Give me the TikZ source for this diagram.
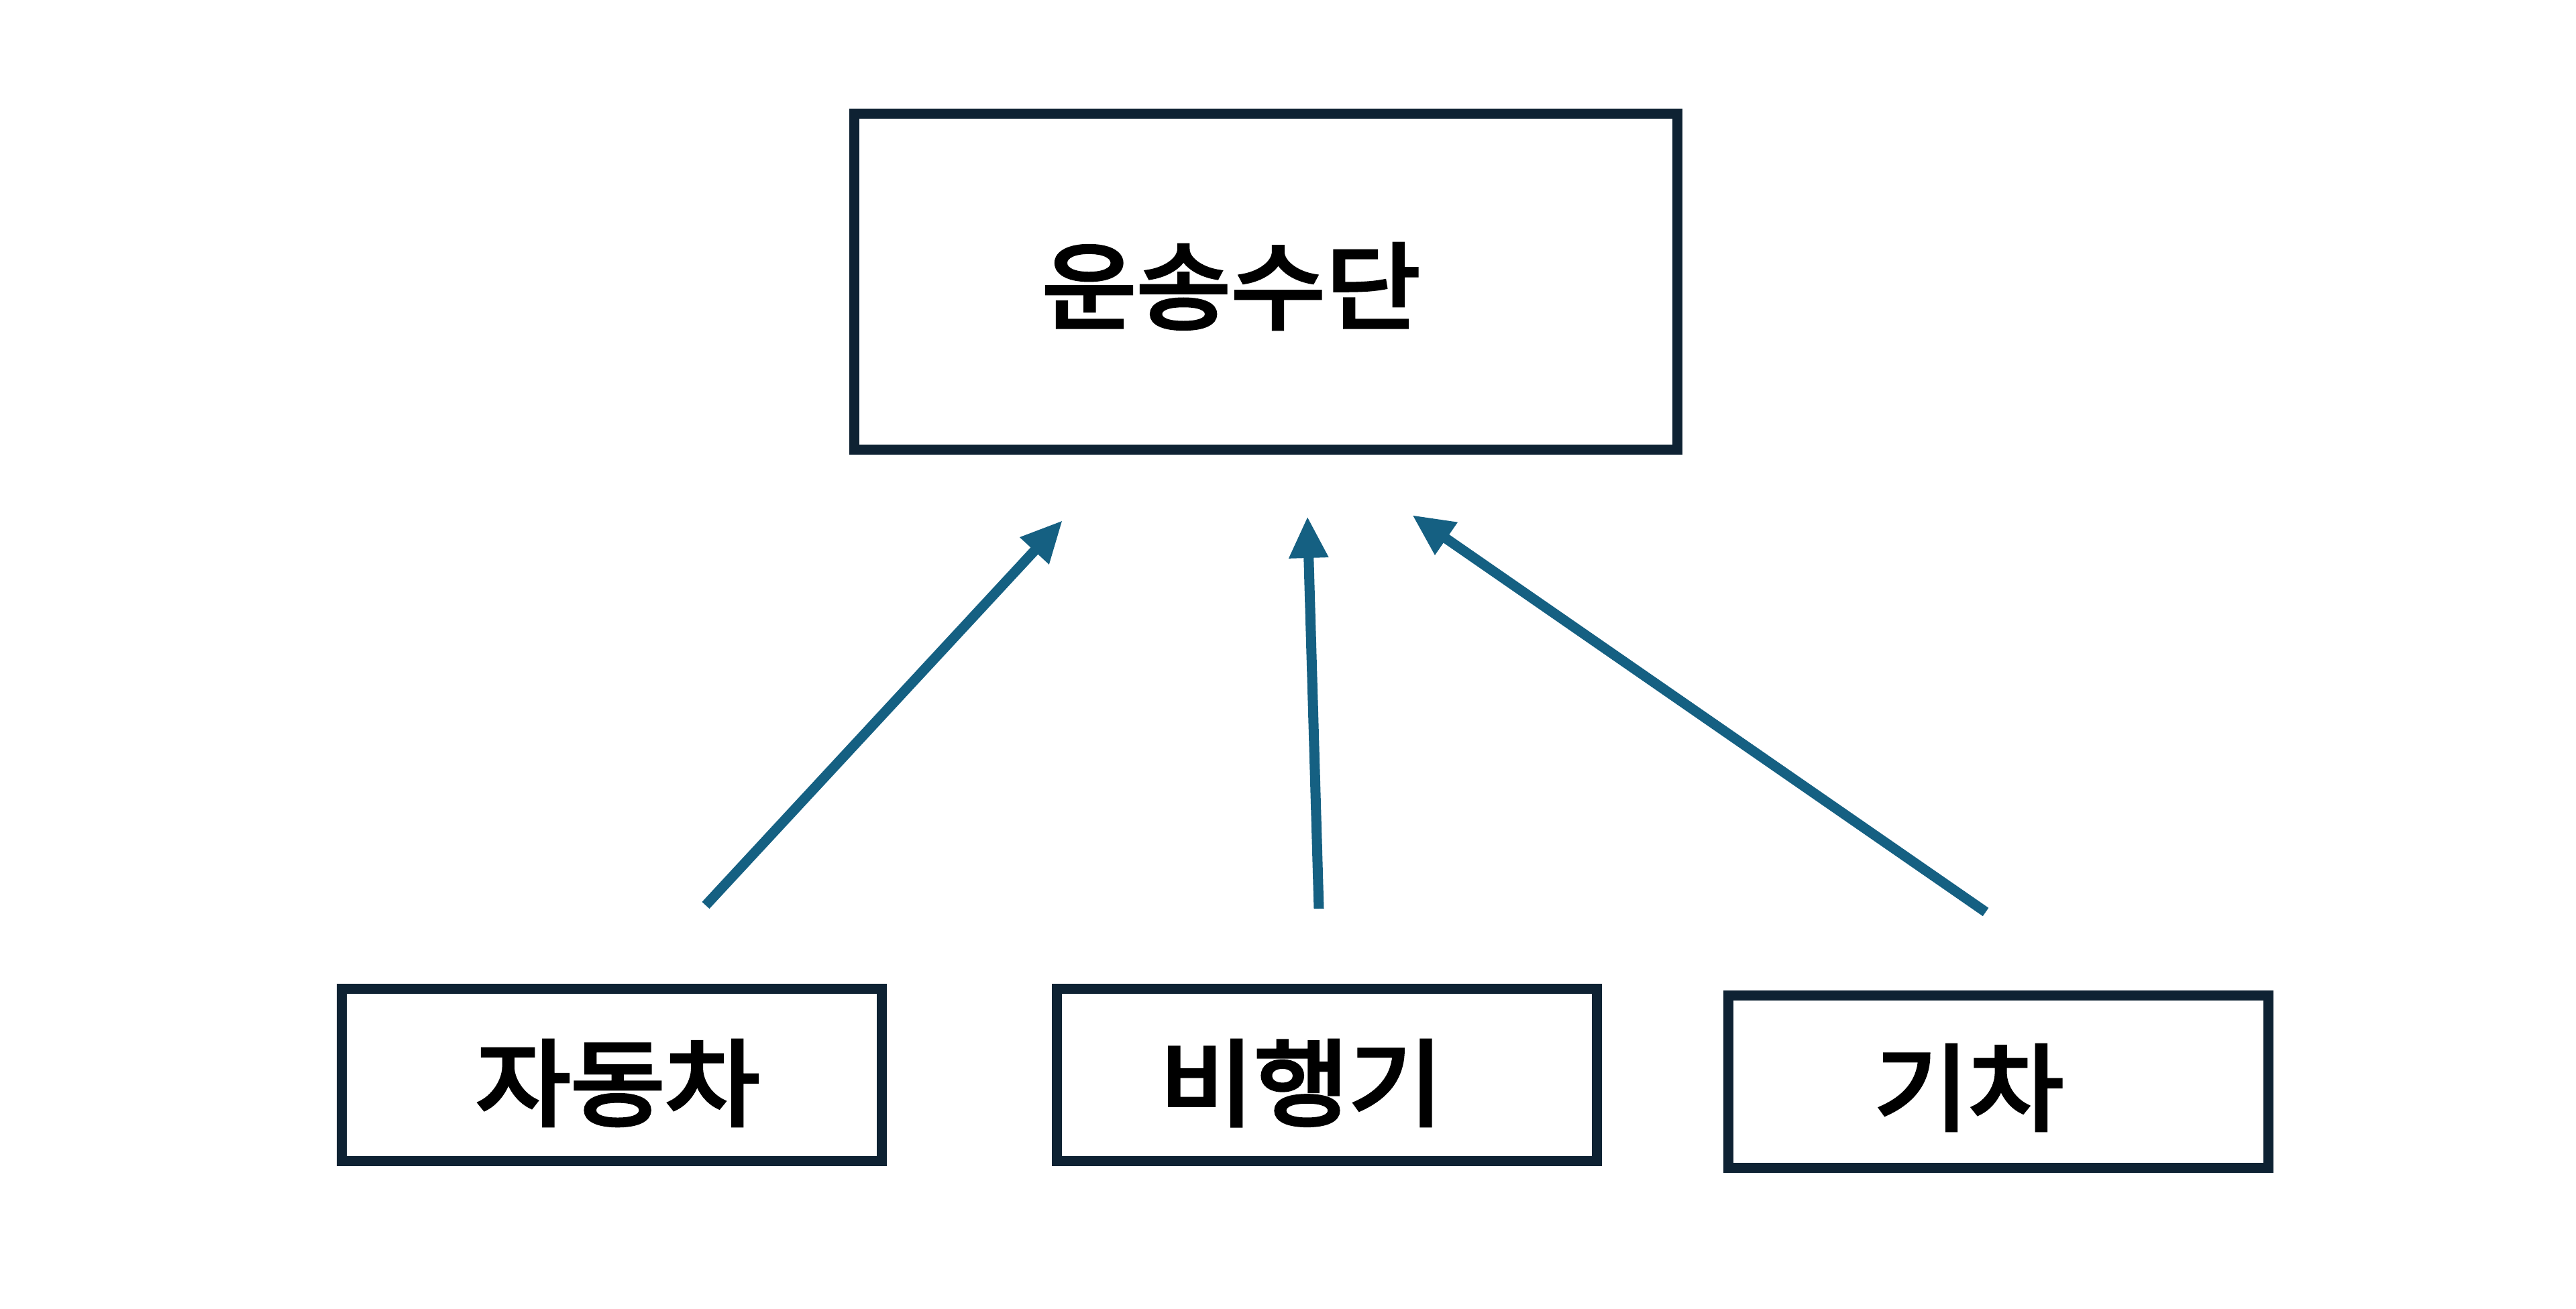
\documentclass[tikz,border=0pt]{standalone}
\usepackage{fontspec}
\newfontfamily\krfont[FakeStretch=1.09,FakeBold=4]{Noto Sans CJK KR}
\usepackage{tikz}
\usetikzlibrary{arrows.meta,positioning}
\definecolor{boxline}{HTML}{0E2233}
\definecolor{arrline}{HTML}{156082}
\tikzset{
  kbox/.style={rectangle,draw=boxline,line width=0.15cm,fill=white,
               minimum width=8.05cm,minimum height=2.57cm},
  ktext/.style={font=\krfont\fontsize{40}{48}\selectfont,align=center},
  arr/.style={-{Triangle[length=0.62cm,width=0.55cm]},line width=0.15cm,arrline},
}

\begin{document}
\begin{tikzpicture}
  \useasboundingbox (0,0) rectangle (38.4,-19.52);
  %% Parent
  \node[kbox,minimum width=12.27cm,minimum height=5.01cm] (top) at (18.87,-4.2) {};
  \node[ktext] (topT) at (18.35,-4.27) {운송수단};
  %% Children
  \node[kbox] (car)   at (9.12,-16.03)  {};
  \node[kbox] (plane) at (19.775,-16.03) {};
  \node[kbox] (train) at (29.79,-16.13)  {};
  \node[ktext] (carT)   at (9.21,-16.15)  {자동차};
  \node[ktext] (planeT) at (19.4,-16.15)  {비행기};
  \node[ktext] (trainT) at (29.35,-16.22) {기차};
  %% Arrow ends
  \coordinate (carA)   at (10.52,-13.50);
  \coordinate (planeA) at (19.66,-13.55);
  \coordinate (trainA) at (29.60,-13.60);
  \coordinate (topL) at (15.84,-7.76);
  \coordinate (topM) at (19.49,-7.70);
  \coordinate (topR) at (21.05,-7.68);
  \foreach \s/\t in {carA/topL,planeA/topM,trainA/topR}{
    \draw[arr] (\s) -- (\t);
  }
\end{tikzpicture}
\end{document}
